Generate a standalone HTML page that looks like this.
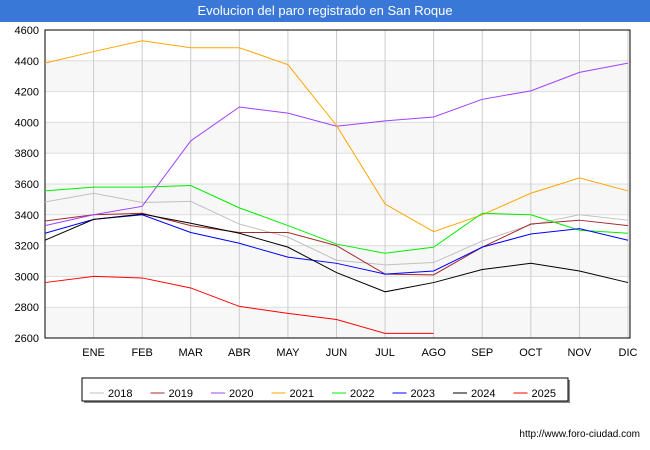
<!DOCTYPE html>
<html><head><meta charset="utf-8"><style>
body{margin:0;background:#fff;font-family:"Liberation Sans",sans-serif}
#t{position:absolute;left:0;top:0;width:650px;height:22px;background:#3a78d8;color:#fff;font-size:13px;text-align:center;line-height:22px}
</style></head><body>
<div id="t">Evolucion del paro registrado en San Roque</div>
<svg id="c" width="650" height="450" style="position:absolute;left:0;top:0"></svg>
<script>
const months=["","ENE","FEB","MAR","ABR","MAY","JUN","JUL","AGO","SEP","OCT","NOV","DIC"];
const yTicks=[2600,2800,3000,3200,3400,3600,3800,4000,4200,4400,4600];
const names=["2018","2019","2020","2021","2022","2023","2024","2025"];
const colors=["#c0c0c0","#a52a2a","#a040ff","#ffa500","#00ee00","#0000ff","#000000","#ff0000"];
const s2018=[3483,3540,3480,3487,3340,3255,3105,3075,3090,3230,3335,3400,3365];
const s2019=[3360,3400,3410,3330,3285,3285,3200,3015,3010,3190,3340,3365,3330];
const s2020=[3330,3400,3455,3880,4100,4060,3975,4010,4035,4150,4205,4325,4385];
const s2021=[4385,4460,4530,4485,4485,4375,3980,3470,3290,3400,3540,3640,3555];
const s2022=[3555,3580,3580,3590,3445,3330,3210,3150,3190,3410,3400,3300,3280];
const s2023=[3280,3370,3400,3285,3215,3125,3085,3015,3035,3190,3275,3310,3235];
const s2024=[3235,3370,3405,3345,3280,3190,3025,2900,2960,3045,3085,3035,2960];
const s2025=[2960,3000,2990,2925,2805,2760,2720,2630,2630];
const series=[s2018,s2019,s2020,s2021,s2022,s2023,s2024,s2025];
const L=45,R=630,T=30,B=338;
const x=i=>L+i*(R-2-L)/12;
const y=v=>B-(v-2600)*(B-T)/2000;
const svg=document.getElementById('c');
const NS="http://www.w3.org/2000/svg";
function mk(tag,a,p){const e=document.createElementNS(NS,tag);for(const k in a)e.setAttribute(k,a[k]);(p||svg).appendChild(e);return e;}
for(let i=0;i<yTicks.length-1;i+=2){
 const b=mk('rect',{x:L,y:y(yTicks[i+1]),width:R-L,height:y(yTicks[i])-y(yTicks[i+1]),fill:"#f7f7f7"});
 
 
}
yTicks.forEach(v=>{
 const g=mk('line',{x1:L,x2:R,y1:y(v),y2:y(v),stroke:"#dddddd"});
 
 
 const t=mk('text',{x:L-6,y:y(v)+4,"text-anchor":"end","font-size":11,fill:"#000"});
 t.textContent=v;
 
 
});
months.forEach((m,i)=>{
 if(i>0){const g=mk('line',{x1:x(i),x2:x(i),y1:T,y2:B,stroke:"#cccccc"});
 
 }
 const t=mk('text',{x:x(i),y:B+18,"text-anchor":"middle","font-size":11});
 t.textContent=m;
 
 
});
const fr=mk('rect',{x:L,y:T,width:R-L,height:B-T,fill:"none",stroke:"#000"});


series.forEach((s,k)=>{
 const p=mk('polyline',{points:s.map((v,i)=>x(i)+","+y(v)).join(" "),fill:"none",stroke:colors[k],"stroke-width":1});
 
 
});
const sh=mk('rect',{x:84,y:380,width:486,height:23,fill:"#888"});


const lg=mk('rect',{x:82,y:378,width:486,height:23,fill:"#fff",stroke:"#000"});


names.forEach((n,k)=>{
 const lx=90+k*60.5;
 const l=mk('line',{x1:lx,x2:lx+14,y1:393,y2:393,stroke:colors[k]});
 
 
 const t=mk('text',{x:lx+18,y:397,"font-size":11});
 t.textContent=n;
 
 
});
const u=mk('text',{x:640,y:437,"text-anchor":"end","font-size":10});
u.textContent="http://www.foro-ciudad.com";


</script>
</body></html>
